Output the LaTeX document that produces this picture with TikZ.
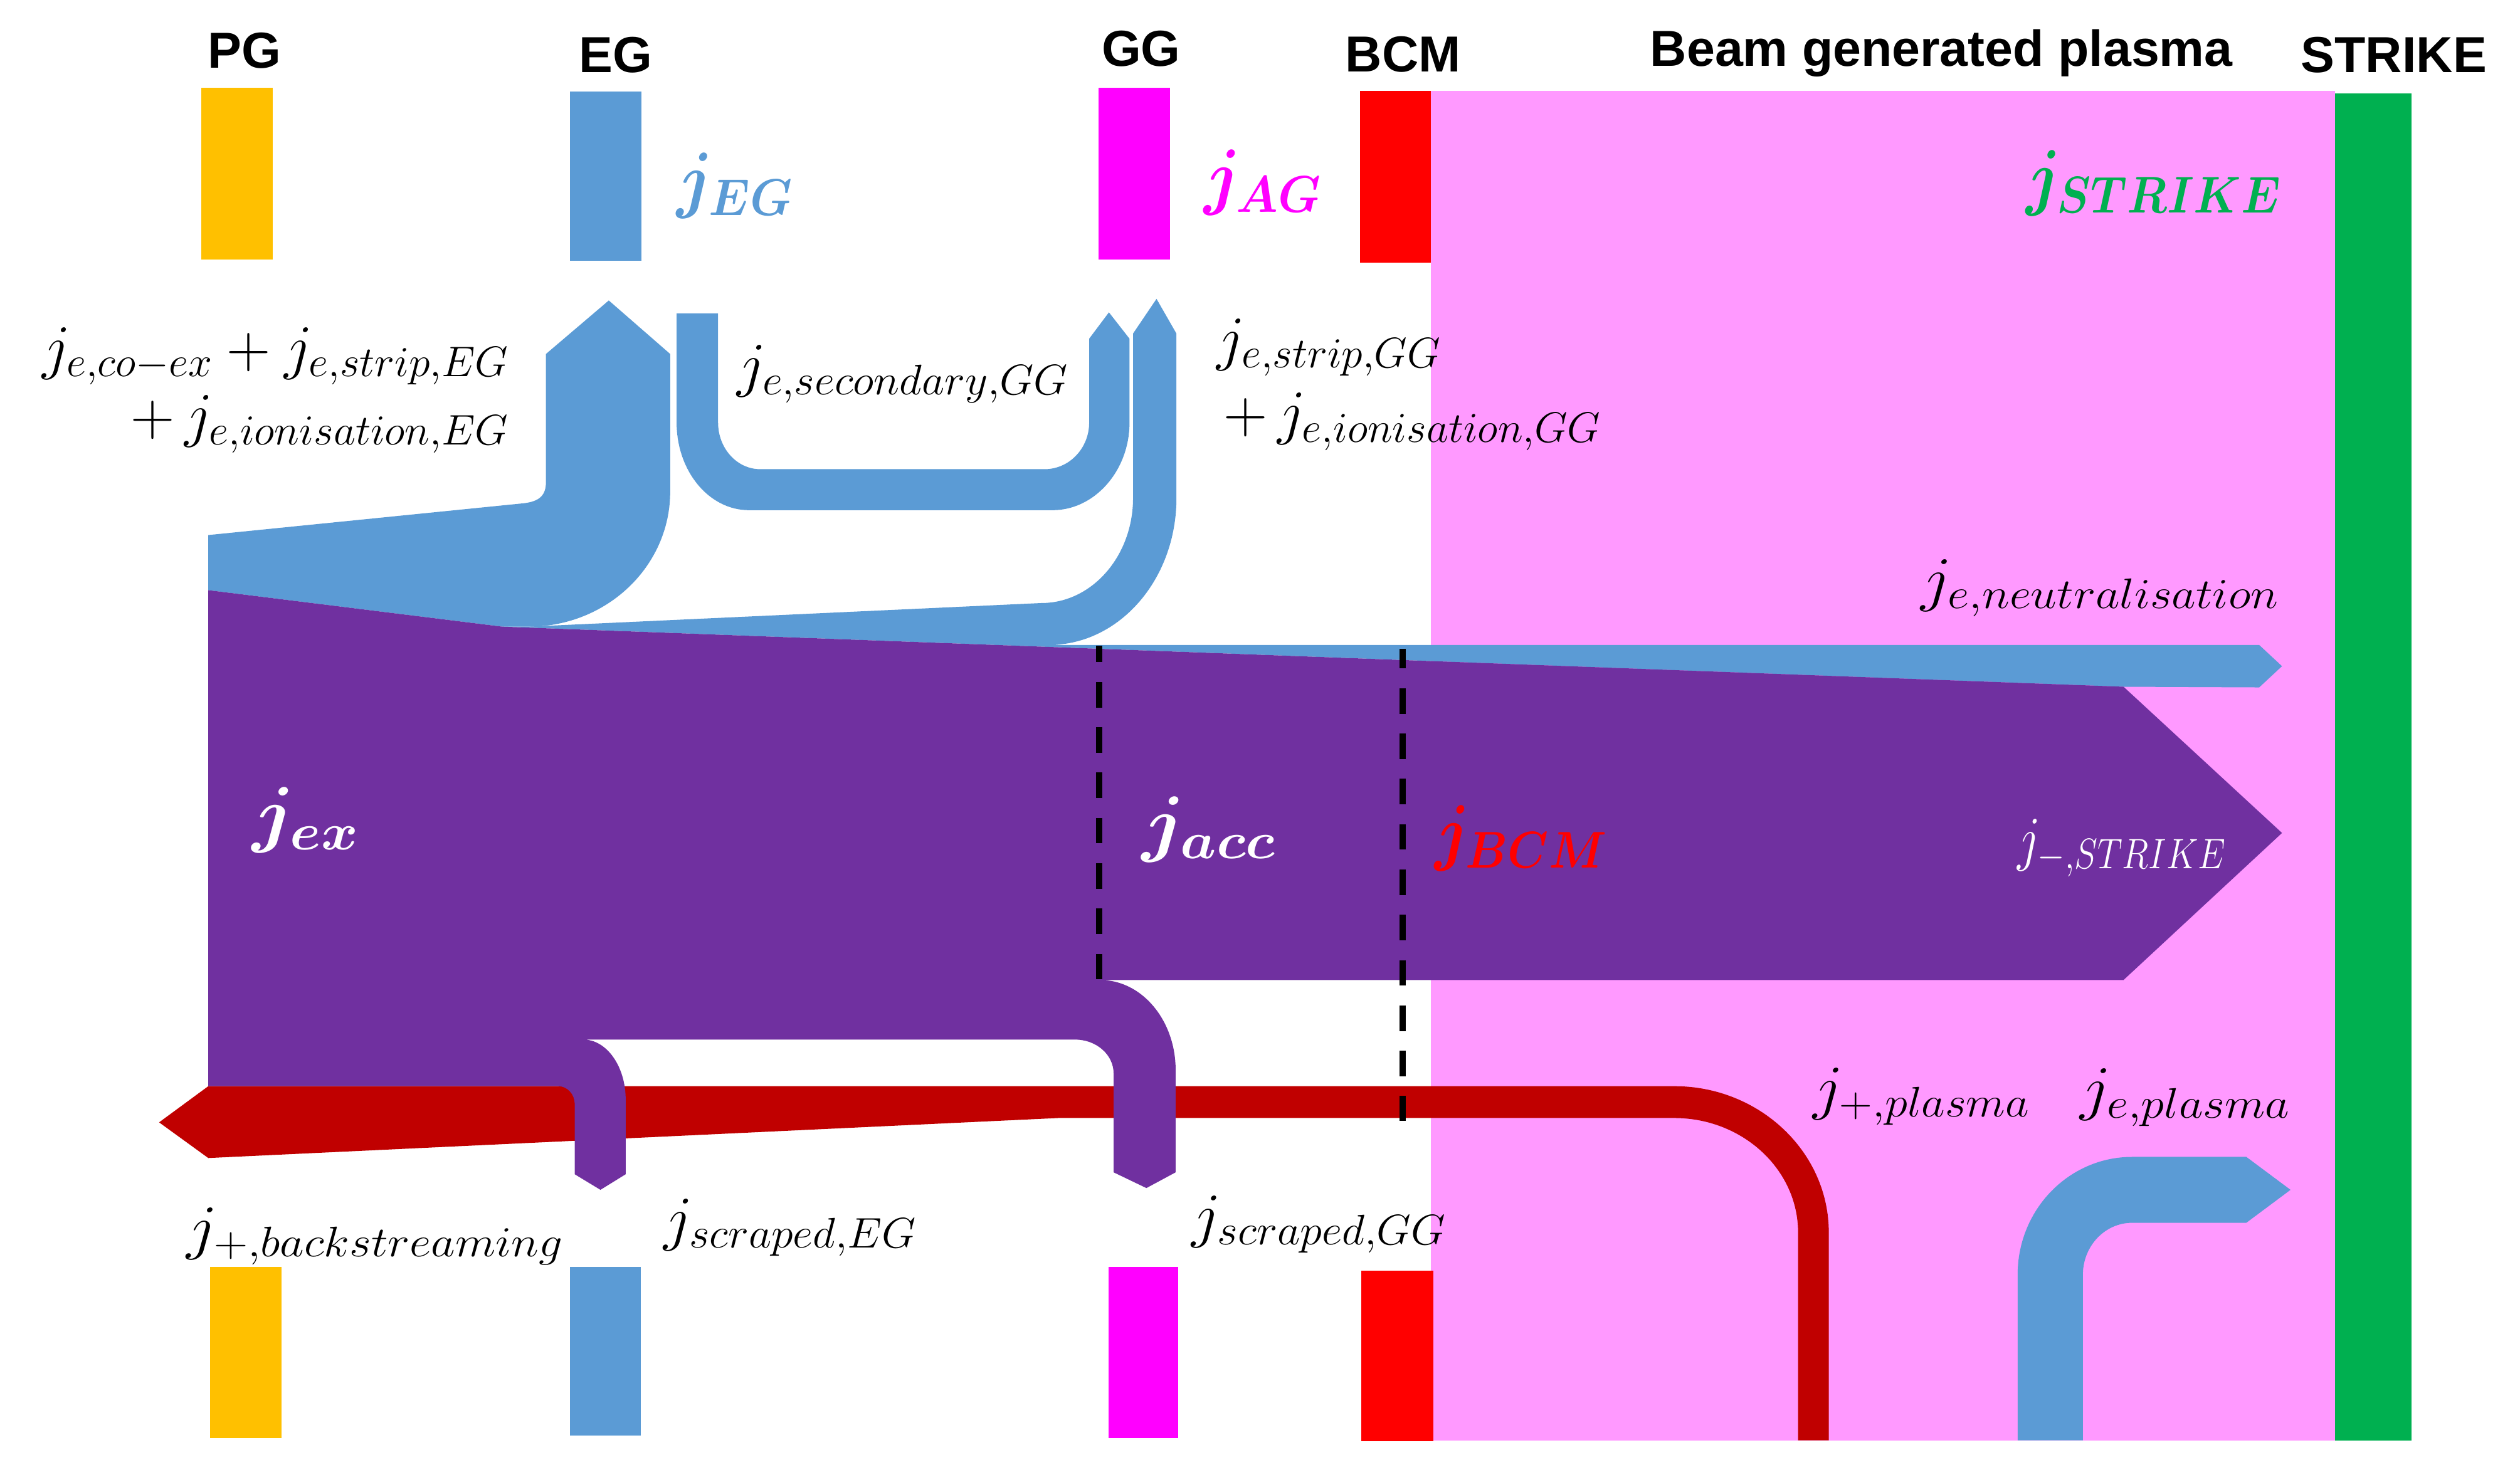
\RequirePackage{fix-cm}
\documentclass[tikz,border=0pt]{standalone}
\usepackage{fontspec}
\usepackage{graphicx}
\newfontfamily\hdrfont{Liberation Sans}
\newcommand\hsq[2]{\scalebox{#1}[1]{#2}}
\definecolor{cblue}{HTML}{5B9BD5}
\definecolor{cpurple}{HTML}{7030A0}
\definecolor{cdred}{HTML}{C00000}
\definecolor{cred}{HTML}{FF0000}
\definecolor{cmag}{HTML}{FF00FF}
\definecolor{corange}{HTML}{FFC000}
\definecolor{cgreen}{HTML}{00B050}
\definecolor{cpink}{HTML}{FF99FF}
\tikzset{
  hdr/.style={anchor=base,inner sep=0pt,font=\hdrfont\fontsize{31.5}{36}\selectfont\bfseries},
  lbl/.style={anchor=west,inner sep=0pt,font=\fontsize{38}{44}\selectfont},
  lblr/.style={anchor=east,inner sep=0pt,font=\fontsize{38}{44}\selectfont},
  big/.style={anchor=west,inner sep=0pt,font=\fontsize{46}{52}\selectfont\boldmath},
  dashline/.style={draw=black,line width=4pt,dash pattern=on 15.9pt off 12.3pt}
}
\begin{document}
\begin{tikzpicture}[x=1pt,y=-1pt]
\useasboundingbox (0,0) rectangle (1568,908.26);
% plasma region and STRIKE
\fill[cpink] (890.4,56.7) rectangle (1452.9,896.4);
\fill[cgreen] (1452.9,58) rectangle (1500.6,896.4);
% top bars
\fill[corange] (125.4,54.7) rectangle (169.8,161.5);
\fill[cblue] (354.8,56.9) rectangle (399.3,162.3);
\fill[cmag] (683.5,54.7) rectangle (727.9,161.5);
\fill[cred] (846.3,56.7) rectangle (890.4,163.4);
% bottom bars
\fill[corange] (130.6,788.4) rectangle (175,895);
\fill[cblue] (354.8,788.4) rectangle (398.7,893.3);
\fill[cmag] (689.7,788.4) rectangle (733.1,895);
\fill[cred] (847,791) rectangle (892,897);
% blue U (secondary GG)
\fill[cblue] (421,195) -- (446.8,195) -- (446.8,263) .. controls (446.8,279) and (458.5,292) .. (473,292)
  -- (650,292) .. controls (665.3,292) and (677.7,279) .. (677.7,263) -- (677.7,210.8) -- (690,194.4)
  -- (702.8,210.8) -- (702.8,263) .. controls (702.8,293) and (681,317.5) .. (655,317.5)
  -- (466,317.5) .. controls (441,317.5) and (421,293) .. (421,263) -- cycle;
% blue EG flow
\fill[cblue] (129.6,333) -- (326,313.2) .. controls (336,312) and (339.7,308) .. (339.7,300)
  -- (339.7,220.3) -- (378.8,187) -- (417,220.3) -- (417,306)
  .. controls (417,352.4) and (377.6,390) .. (329,390) -- (312.5,390) -- (129.6,367.3) -- cycle;
% blue GG flow + neutralisation
\fill[cblue] (329,390) -- (648,375.3) .. controls (679.5,375.3) and (705,346) .. (705,310)
  -- (705,207.6) -- (719.6,186) -- (732,207.6) -- (732,310)
  .. controls (732,360.5) and (696.5,401.4) .. (652.6,401.4)
  -- (1405.7,401.4) -- (1419.9,414.6) -- (1405.7,427.8) -- (1321.3,427.4) -- (312.5,390) -- cycle;
% dark red ion flow
\fill[cdred] (99,698.5) -- (129.6,676) -- (1041.8,676) .. controls (1094.5,676) and (1137.9,716.7) .. (1137.9,767)
  -- (1137.9,896.4) -- (1118.8,896.4) -- (1118.8,767) .. controls (1118.8,727.7) and (1084.1,695.8) .. (1041.8,695.8)
  -- (658.4,695.8) -- (129.6,720.7) -- cycle;
% purple negative ion flow
\fill[cpurple] (129.6,367.3) -- (312.5,390) -- (1321.3,427.4) -- (1419.9,518.4) -- (1321.3,609.9) -- (684.5,609.9)
  .. controls (710.5,609.9) and (731.5,635) .. (731.5,666) -- (731.5,729.6) -- (713.3,739.4) -- (692.9,729.6)
  -- (692.9,668) .. controls (692.9,656.4) and (682.2,647) .. (669,647) -- (363,647)
  .. controls (377.5,647) and (389.3,663.7) .. (389.3,684.3) -- (389.3,730.8) -- (373.6,740.5) -- (357.6,730.8)
  -- (357.6,687) .. controls (357.6,681) and (353,676) .. (347.5,676) -- (129.6,676) -- cycle;
% blue plasma electrons
\fill[cblue] (1255.4,896.4) -- (1255.4,793.3) .. controls (1255.4,752.8) and (1287.3,720) .. (1326.6,720)
  -- (1397.7,720) -- (1425.2,740.5) -- (1397.7,761) -- (1326.6,761)
  .. controls (1309.7,761) and (1296,775.5) .. (1296,793.3) -- (1296,896.4) -- cycle;
% dashed lines
\draw[dashline,dash phase=5.5pt] (684,401.7) -- (684,609.9);
\draw[dashline,dash phase=3.6pt] (872.7,403.7) -- (872.7,697.7);
% headers
\node[hdr] (hPG) at (152,42.4) {PG};
\node[hdr] (hEG) at (383,45.2) {EG};
\node[hdr] (hGG) at (710,41) {GG};
\node[hdr] (hBCM) at (873,44.6) {BCM};
\node[hdr] (hBGP) at (1208,41) {Beam generated plasma};
\node[hdr] (hSTR) at (1489.5,45) {STRIKE};
% bold labels
\node[big,text=cblue] (ljEG) at (421,115.5) {\hsq{0.92}{$j_{EG}$}};
\node[big,text=cmag] (ljAG) at (749,113.6) {\hsq{0.93}{$j_{AG}$}};
\node[big,text=cgreen] (ljSTR) at (1260.6,114) {\hsq{0.88}{$j_{STRIKE}$}};
\node[big,text=white] (ljex) at (157,510.4) {\hsq{1.08}{$j_{ex}$}};
\node[big,text=white] (ljacc) at (710.6,516) {\hsq{1.1}{$j_{acc}$}};
\node[big,text=cred] (ljBCM) at (892.6,521.7) {\hsq{0.89}{$j_{BCM}$}};
% normal labels
\node[lblr] (lco1) at (317,221.7) {$j_{e,co-ex}+j_{e,strip,EG}$};
\node[lblr] (lco2) at (317,264) {$+\,j_{e,ionisation,EG}$};
\node[lbl] (lsec) at (458.4,232.7) {\hsq{1.03}{$j_{e,secondary,GG}$}};
\node[lbl] (lsg1) at (757,216.2) {$j_{e,strip,GG}$};
\node[lbl] (lsg2) at (761,262.5) {$+\,j_{e,ionisation,GG}$};
\node[lbl] (lneu) at (1195,366) {\hsq{1.1}{$j_{e,neutralisation}$}};
\node[lbl,text=white] (lmstr) at (1255,527.7) {\hsq{0.82}{$j_{-,STRIKE}$}};
\node[lbl] (lpp) at (1128,682.5) {\hsq{1.07}{$j_{+,plasma}$}};
\node[lbl] (lep) at (1294,683) {\hsq{1.1}{$j_{e,plasma}$}};
\node[lbl] (lbs) at (116,769.4) {\hsq{1.1}{$j_{+,backstreaming}$}};
\node[lbl] (lsEG) at (412.8,764) {\hsq{1.03}{$j_{scraped,EG}$}};
\node[lbl] (lsGG) at (741.3,762) {\hsq{1.04}{$j_{scraped,GG}$}};
\end{tikzpicture}
\end{document}
